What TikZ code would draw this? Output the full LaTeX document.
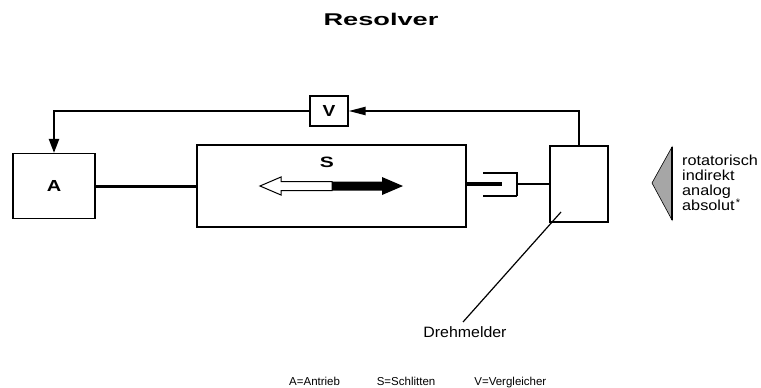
\documentclass[tikz,border=0pt]{standalone}
\usepackage{fontspec}
\usepackage{graphicx}
\setmainfont{Liberation Sans}
\usetikzlibrary{arrows.meta}
\newcommand\xstretch[2]{\scalebox{#1}[1]{#2}}
\begin{document}
\begin{tikzpicture}[x=1pt,y=-1pt,
  box/.style={draw=black,line width=1.1pt,inner sep=0pt},
  thickline/.style={line width=3pt},
  fbline/.style={line width=2.2pt},
  thinline/.style={line width=1.2pt},
  txt/.style={inner sep=0pt,text=black},
  prop/.style={txt,anchor=base west,font=\fontsize{14.5}{16}\selectfont}]
\useasboundingbox (0,0) rectangle (761,388);
% title
\node[txt,anchor=base,font=\bfseries\fontsize{17}{20}\selectfont] (title) at (381,25.5) {\xstretch{1.6}{Resolver}};
% boxes
\node[box,minimum width=82pt,minimum height=65pt,font=\bfseries\fontsize{16}{19}\selectfont] (A) at (54,186) {\xstretch{1.25}{A}};
\node[box,minimum width=269pt,minimum height=82pt] (S) at (331.5,186) {};
\node[box,minimum width=58pt,minimum height=76pt] (R) at (579,184) {};
\node[box,minimum width=38pt,minimum height=30pt,font=\bfseries\fontsize{16}{19}\selectfont] (V) at (329,111) {\xstretch{1.2}{V}};
\node[txt,font=\bfseries\fontsize{15}{18}\selectfont] (Slabel) at (327,162) {\xstretch{1.4}{S}};
% feedback loop
\draw[fbline,-{Triangle[length=17pt,width=8pt]}] (R.north) |- (V.east);
\draw[fbline,-{Triangle[length=14pt,width=10pt]}] (V.west) -| (A.north);
% shaft A to carriage
\draw[thickline] (A.east) -- (S.west);
% coupling
\coordinate (cupTL) at (483,173);
\coordinate (cupTR) at (517,173);
\coordinate (cupBR) at (517,196);
\coordinate (cupBL) at (483,196);
\coordinate (cupMid) at (517,184);
\coordinate (shaftEnd) at (502,184);
\draw[line width=3.8pt] (S.east |- shaftEnd) -- (shaftEnd);
\draw[thinline] (cupTL) -- (cupTR) -- (cupBR);
\draw[line width=2pt] (cupBR) -- (cupBL);
\draw[thinline] (cupMid) -- (R.west |- cupMid);
% double arrow inside carriage
\draw[line width=1pt,fill=white] (260,186) -- (281,177) -- (281,181.5) -- (332,181.5) -- (332,190.5) -- (281,190.5) -- (281,195) -- cycle;
\fill[black] (332,181.5) -- (382,181.5) -- (382,177) -- (403,186) -- (382,195) -- (382,190.5) -- (332,190.5) -- cycle;
% Drehmelder leader
\coordinate (leadTop) at (561,212);
\node[txt,anchor=base,font=\fontsize{15}{17}\selectfont] (dreh) at (465,337) {\xstretch{1.06}{Drehmelder}};
\draw[thinline] (leadTop) -- (463,322);
% gray triangle
\coordinate (triTip) at (652,183);
\coordinate (triTop) at (672,147);
\coordinate (triBot) at (672,220);
\draw[line width=0.6pt,fill=gray!70] (triTip) -- (triTop) -- (triBot) -- cycle;
\draw[line width=2pt] (triTop) -- (triBot);
% properties
\node[prop] (p1) at (682,165) {\xstretch{1.12}{rotatorisch}};
\node[prop] (p2) at (682,180) {\xstretch{1.12}{indirekt}};
\node[prop] (p3) at (682,195) {\xstretch{1.12}{analog}};
\node[prop] (p4) at (682,210) {\xstretch{1.12}{absolut}};
\node[txt,font=\fontsize{11}{12}\selectfont] (star) at (738,203) {*};
% legend
\node[txt,anchor=base west,font=\fontsize{11.5}{13}\selectfont] (legend) at (289,385) {A=Antrieb\hspace{3.2em}S=Schlitten\hspace{3.4em}V=Vergleicher};
\end{tikzpicture}
\end{document}
